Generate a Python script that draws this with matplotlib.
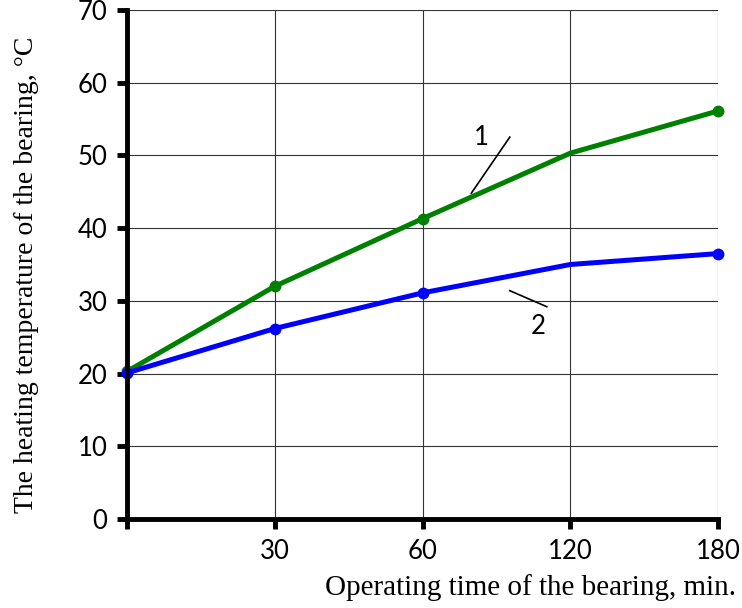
import matplotlib.pyplot as plt

# x categories (evenly spaced on the chart)
time_labels = ["", "30", "60", "120", "180"]
x_pos = [0, 1, 2, 3, 4]

# curve 1 (green) and curve 2 (blue), temperature in deg C
temp_1 = [20.3, 32.0, 41.3, 50.3, 56.1]
temp_2 = [20.1, 26.2, 31.1, 35.0, 36.5]
marked = [0, 1, 2, 4]   # points that carry a dot

y_ticks = [0, 10, 20, 30, 40, 50, 60, 70]

fig = plt.figure(figsize=(7.42, 6.08), dpi=100)
ax = fig.add_axes([0.171, 0.146, 0.797, 0.838])

ax.plot(x_pos, temp_1, "-o", color="#008000", lw=3.6, ms=7.5,
        markevery=marked, clip_on=False, solid_capstyle="round")
ax.plot(x_pos, temp_2, "-o", color="#0000ff", lw=3.6, ms=7.5,
        markevery=marked, clip_on=False, solid_capstyle="round")

ax.set_xlim(0, 4)
ax.set_ylim(0, 70)
ax.set_xticks(x_pos)
ax.set_xticklabels(time_labels, fontsize=18.5, family="Lato")
ax.set_yticks(y_ticks)
ax.set_yticklabels([str(v) for v in y_ticks], fontsize=18.5, family="Lato")

ax.grid(True, color="#333333", lw=0.8)
ax.set_axisbelow(True)

for s in ["top", "right"]:
    ax.spines[s].set_visible(False)
for s in ["left", "bottom"]:
    ax.spines[s].set_linewidth(3.5)
ax.tick_params(axis="both", direction="out", length=7, width=3.5, pad=7)

# curve numbers with leader lines
ax.text(2.4, 52.5, "1", fontsize=18.5, family="Lato", ha="center", va="center")
ax.plot([2.59, 2.33], [52.5, 44.8], color="black", lw=1.2)
ax.text(2.78, 26.5, "2", fontsize=18.5, family="Lato", ha="center", va="center")
ax.plot([2.59, 2.84], [31.4, 29.2], color="black", lw=1.2)

ax.set_ylabel("The heating temperature of the bearing, \u00b0C",
              fontsize=20, family="Liberation Serif")
ax.yaxis.set_label_coords(-0.148, 0.48)
fig.text(0.992, 0.012, "Operating time of the bearing, min.",
         fontsize=21, family="Liberation Serif", ha="right", va="bottom")

fig.savefig("out.png", dpi=100)
